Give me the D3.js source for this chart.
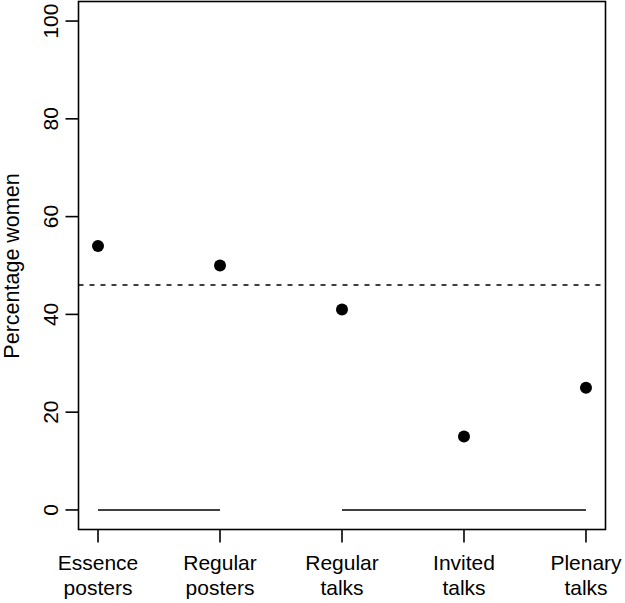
<!DOCTYPE html>
<html><head><meta charset="utf-8">
<script src="https://cdn.jsdelivr.net/npm/d3@7"></script>
<style>body{margin:0;background:#fff;} svg{display:block;} text{font-family:"Liberation Sans",Arial,sans-serif;}</style>
</head><body><svg id="c" width="625" height="603"></svg>
<script>
const categories = [["Essence","posters"],["Regular","posters"],["Regular","talks"],["Invited","talks"],["Plenary","talks"]];
const values = [54, 50, 41, 15, 25];
const referenceLine = 46;
const yTicks = [0, 20, 40, 60, 80, 100];
const segments = [[1, 2], [3, 5]];
const yTitle = "Percentage women";

const svg = d3.select("#c");
const L = 78.5, R = 605.5, T = 1.5, B = 529.5;
const x = d3.scaleLinear().domain([0.84, 5.16]).range([L, R]);
const y = d3.scaleLinear().domain([-4, 104]).range([B, T]);
const fs = 21;

svg.append("rect").attr("x", L).attr("y", T).attr("width", R - L).attr("height", B - T)
  .attr("fill", "none").attr("stroke", "#000").attr("stroke-width", 1.6);

// y axis
const ya = svg.append("g");
yTicks.forEach(t => {
  ya.append("line").attr("x1", L - 13).attr("x2", L).attr("y1", y(t)).attr("y2", y(t)).attr("stroke", "#000").attr("stroke-width", 1.6);
  ya.append("text").attr("transform", `translate(${L - 20.5},${y(t)}) rotate(-90)`)
    .attr("text-anchor", "middle").attr("font-size", fs).text(t);
});
svg.append("text").attr("transform", `translate(${19},${266}) rotate(-90)`)
  .attr("text-anchor", "middle").attr("font-size", 21.5).text(yTitle);

// x axis
categories.forEach((c, i) => {
  const xi = x(i + 1);
  svg.append("line").attr("x1", xi).attr("x2", xi).attr("y1", B).attr("y2", B + 13).attr("stroke", "#000").attr("stroke-width", 1.6);
  svg.append("text").attr("x", xi).attr("y", 570).attr("text-anchor", "middle").attr("font-size", fs).text(c[0]);
  svg.append("text").attr("x", xi).attr("y", 595).attr("text-anchor", "middle").attr("font-size", fs).text(c[1]);
});

// reference dashed line
svg.append("line").attr("x1", L).attr("x2", R).attr("y1", y(referenceLine)).attr("y2", y(referenceLine))
  .attr("stroke", "#000").attr("stroke-width", 1.6).attr("stroke-dasharray", "5,6");

// segments at 0
segments.forEach(s => {
  svg.append("line").attr("x1", x(s[0])).attr("x2", x(s[1])).attr("y1", y(0)).attr("y2", y(0))
    .attr("stroke", "#000").attr("stroke-width", 1.6);
});

// points
svg.selectAll("circle.pt").data(values).join("circle").attr("class", "pt")
  .attr("cx", (d, i) => x(i + 1)).attr("cy", d => y(d)).attr("r", 6).attr("fill", "#000");
</script></body></html>
